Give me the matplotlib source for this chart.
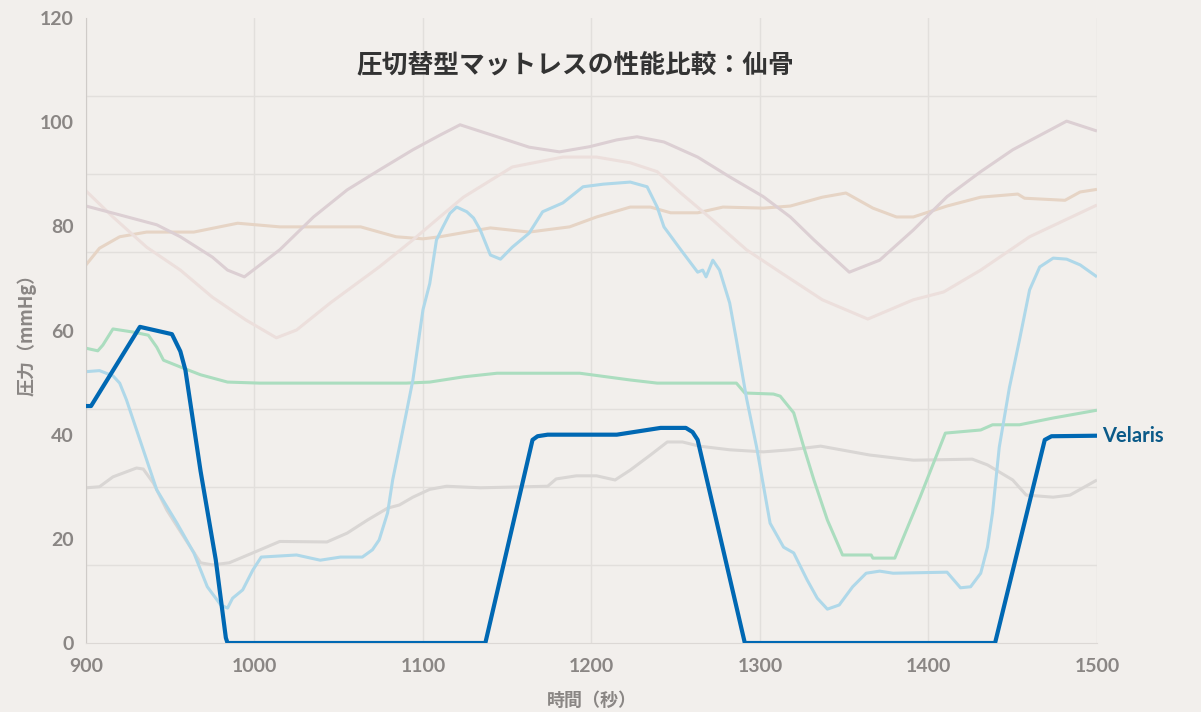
import numpy as np
import matplotlib.pyplot as plt
from matplotlib.ticker import MultipleLocator

plt.rcParams['font.family'] = ['Lato', 'Noto Sans CJK JP', 'DejaVu Sans']

# Velaris (highlighted)
velaris_t = [900, 903, 932, 951, 956, 959, 968, 977, 983, 984, 1137, 1165, 1168, 1174,
             1215, 1241, 1256, 1260, 1263, 1291, 1439.5, 1469, 1473, 1500]
velaris_v = [45.5, 45.5, 60.7, 59.3, 56, 52.4, 33, 16, 1, 0, 0, 39, 39.7, 40,
             40, 41.3, 41.3, 40.5, 39, 0, 0, 39, 39.7, 39.8]

# faded comparison series
blue_t = [900, 908, 916, 920, 924, 932, 942, 954, 964, 972, 980, 984, 987, 993, 999, 1004,
          1025, 1039, 1051, 1064, 1070, 1074, 1079, 1082, 1086, 1090, 1094, 1100, 1104, 1108,
          1112, 1116, 1120, 1126, 1130, 1134, 1140, 1146, 1153, 1163, 1171, 1183, 1195, 1207,
          1223, 1233, 1239, 1243, 1253, 1263, 1266, 1268, 1272, 1276, 1282, 1286, 1292, 1298,
          1306, 1314, 1320, 1328, 1334, 1340, 1347, 1355, 1363, 1371, 1379, 1411, 1419, 1425,
          1431, 1435, 1438, 1442, 1448, 1454, 1460, 1466, 1474, 1482, 1490, 1500]
blue_v = [52.1, 52.3, 51.3, 49.9, 46.7, 39, 29.4, 23, 17.3, 10.8, 7.3, 6.7, 8.6, 10.2, 14, 16.5,
          16.9, 15.9, 16.5, 16.5, 17.9, 19.8, 25, 31.3, 37.6, 44, 50.5, 64, 69, 77.4,
          80, 82.5, 83.7, 82.8, 81.6, 79.3, 74.5, 73.7, 76, 78.7, 82.8, 84.5, 87.6, 88.1,
          88.5, 87.6, 83.7, 79.9, 75.5, 71.2, 71.6, 70.3, 73.5, 71.6, 65.3, 58.2, 47, 37.6,
          23, 18.4, 17.3, 12.1, 8.6, 6.5, 7.3, 10.8, 13.4, 13.8, 13.4, 13.6, 10.6, 10.8,
          13.4, 18.4, 25, 37.6, 49, 58.2, 67.8, 72.2, 73.9, 73.7, 72.6, 70.3]

green_t = [900, 907, 910, 916, 928, 937, 942, 946, 956, 968, 984, 1003, 1090, 1104, 1124, 1144,
           1193, 1223, 1239, 1286, 1291, 1308, 1312, 1320, 1326, 1332, 1340, 1349, 1366, 1367,
           1380, 1395, 1410, 1431, 1438, 1454, 1474, 1500]
green_v = [56.6, 56.1, 57.2, 60.3, 59.7, 59.1, 56.8, 54.3, 53, 51.5, 50.1, 49.9, 49.9, 50.1, 51.1, 51.8,
           51.8, 50.5, 49.9, 49.9, 48, 47.8, 47.4, 44.2, 37.6, 31.3, 23.6, 16.9, 16.9, 16.3,
           16.3, 28, 40.3, 40.9, 41.9, 41.9, 43.2, 44.7]

gray_t = [900, 908, 916, 930, 934, 940, 948, 958, 968, 975, 985, 999, 1015, 1043, 1055, 1067,
          1079, 1086, 1094, 1104, 1114, 1134, 1174, 1179, 1191, 1203, 1214, 1223, 1235, 1245,
          1254, 1264, 1282, 1302, 1318, 1336, 1365, 1391, 1426, 1435, 1450, 1458, 1474, 1484, 1500]
gray_v = [29.8, 30, 31.9, 33.6, 33.4, 30.7, 25.5, 20.4, 15.4, 15, 15.4, 17.3, 19.5, 19.4, 21.1, 23.6,
          25.9, 26.5, 28, 29.5, 30.1, 29.8, 30.1, 31.5, 32.1, 32.1, 31.3, 33.2, 36.1, 38.6,
          38.6, 37.8, 37.1, 36.7, 37.1, 37.8, 36.1, 35.1, 35.3, 34.2, 31.3, 28.4, 28, 28.4, 31.3]

mauve_t = [900, 920, 942, 956, 975, 984, 994, 1015, 1035, 1055, 1074, 1094, 1110, 1122, 1144,
           1163, 1181, 1199, 1215, 1227, 1243, 1263, 1282, 1302, 1318, 1332, 1353, 1371, 1391,
           1411, 1431, 1450, 1482, 1500]
mauve_v = [83.9, 82.2, 80.3, 78, 74.1, 71.6, 70.3, 75.5, 81.8, 87, 90.8, 94.7, 97.5, 99.5, 97.2,
           95.2, 94.3, 95.3, 96.6, 97.2, 96.2, 93.3, 89.5, 85.7, 81.8, 77.4, 71.2, 73.5, 79.3,
           85.7, 90.5, 94.7, 100.2, 98.3]

pink_t = [900, 916, 936, 956, 975, 995, 1013, 1025, 1045, 1074, 1094, 1110, 1124, 1153, 1183,
          1203, 1223, 1239, 1253, 1272, 1292, 1312, 1337, 1364, 1391, 1409, 1431, 1460, 1500]
pink_v = [86.8, 81.8, 76, 71.6, 66.4, 62, 58.6, 60.1, 65.3, 72.2, 77.4, 81.8, 85.6, 91.4, 93.3,
          93.3, 92.2, 90.5, 86.4, 81.2, 75.5, 71.2, 65.9, 62.2, 65.9, 67.4, 71.6, 78, 84.1]

tan_t = [900, 908, 920, 936, 964, 990, 1015, 1063, 1084, 1100, 1110, 1140, 1163, 1187, 1203,
         1223, 1235, 1247, 1263, 1278, 1302, 1318, 1337, 1351, 1367, 1381, 1391, 1411, 1431,
         1453, 1457, 1481, 1490, 1500]
tan_v = [72.6, 75.8, 78, 78.9, 78.9, 80.6, 79.9, 79.9, 78, 77.6, 78, 79.7, 78.9, 79.9, 81.8,
         83.7, 83.7, 82.6, 82.6, 83.7, 83.5, 83.9, 85.6, 86.4, 83.5, 81.8, 81.8, 83.9, 85.6,
         86.2, 85.4, 85, 86.6, 87.1]

bg = '#f2efec'
fig = plt.figure(figsize=(12.01, 7.12), dpi=100, facecolor=bg)
ax = fig.add_axes([0.0716, 0.0969, 0.8418, 0.8778], facecolor=bg)

faded = [
    (tan_t, tan_v, '#e6d4c5'),
    (pink_t, pink_v, '#ecdfdc'),
    (mauve_t, mauve_v, '#dccfd3'),
    (gray_t, gray_v, '#d9d6d4'),
    (green_t, green_v, '#abddbf'),
    (blue_t, blue_v, '#afd8e9'),
]
for t, v, c in faded:
    ax.plot(t, v, color=c, lw=2.2, solid_capstyle='butt', zorder=2)

ax.plot(velaris_t, velaris_v, color='#0068b3', lw=3.0, solid_joinstyle='round', zorder=5)
ax.text(1503, velaris_v[-1], 'Velaris', color='#0b5a88', fontsize=14.5, fontweight='bold',
        va='center', ha='left', clip_on=False)

ax.set_xlim(900, 1500)
ax.set_ylim(0, 120)
ax.xaxis.set_major_locator(MultipleLocator(100))
ax.yaxis.set_major_locator(MultipleLocator(20))
ax.yaxis.set_minor_locator(MultipleLocator(15))
ax.grid(False)
ax.grid(True, axis='x', which='major', color='#e2dfdc', lw=1)
ax.grid(True, axis='y', which='minor', color='#e2dfdc', lw=1)
ax.set_axisbelow(True)
ax.tick_params(which='both', length=0)
ax.tick_params(axis='y', pad=9, labelsize=14, labelcolor='#8a8684')
ax.tick_params(axis='x', pad=11, labelsize=14, labelcolor='#8a8684')
for lbl in ax.get_xticklabels() + ax.get_yticklabels():
    lbl.set_fontweight('bold')

for s in ['top', 'right']:
    ax.spines[s].set_visible(False)
ax.spines['left'].set_color('#cfcbc8')
ax.spines['bottom'].set_color('#dcd8d5')

ax.set_xlabel('時間（秒）', fontsize=13, color='#8a8684', fontweight='bold', labelpad=11,
              family=['Noto Sans CJK JP', 'DejaVu Sans'])
ax.set_ylabel('圧力（mmHg）', fontsize=13, color='#8a8684', fontweight='bold', labelpad=2,
              family=['Noto Sans CJK JP', 'DejaVu Sans'])

fig.text(575 / 1201, 1 - 65 / 712, '圧切替型マットレスの性能比較：仙骨', ha='center', va='center',
         fontsize=18.5, fontweight='bold', color='#333333', family=['Noto Sans CJK JP', 'DejaVu Sans'])

fig.savefig('out.png', dpi=100, facecolor=bg)
